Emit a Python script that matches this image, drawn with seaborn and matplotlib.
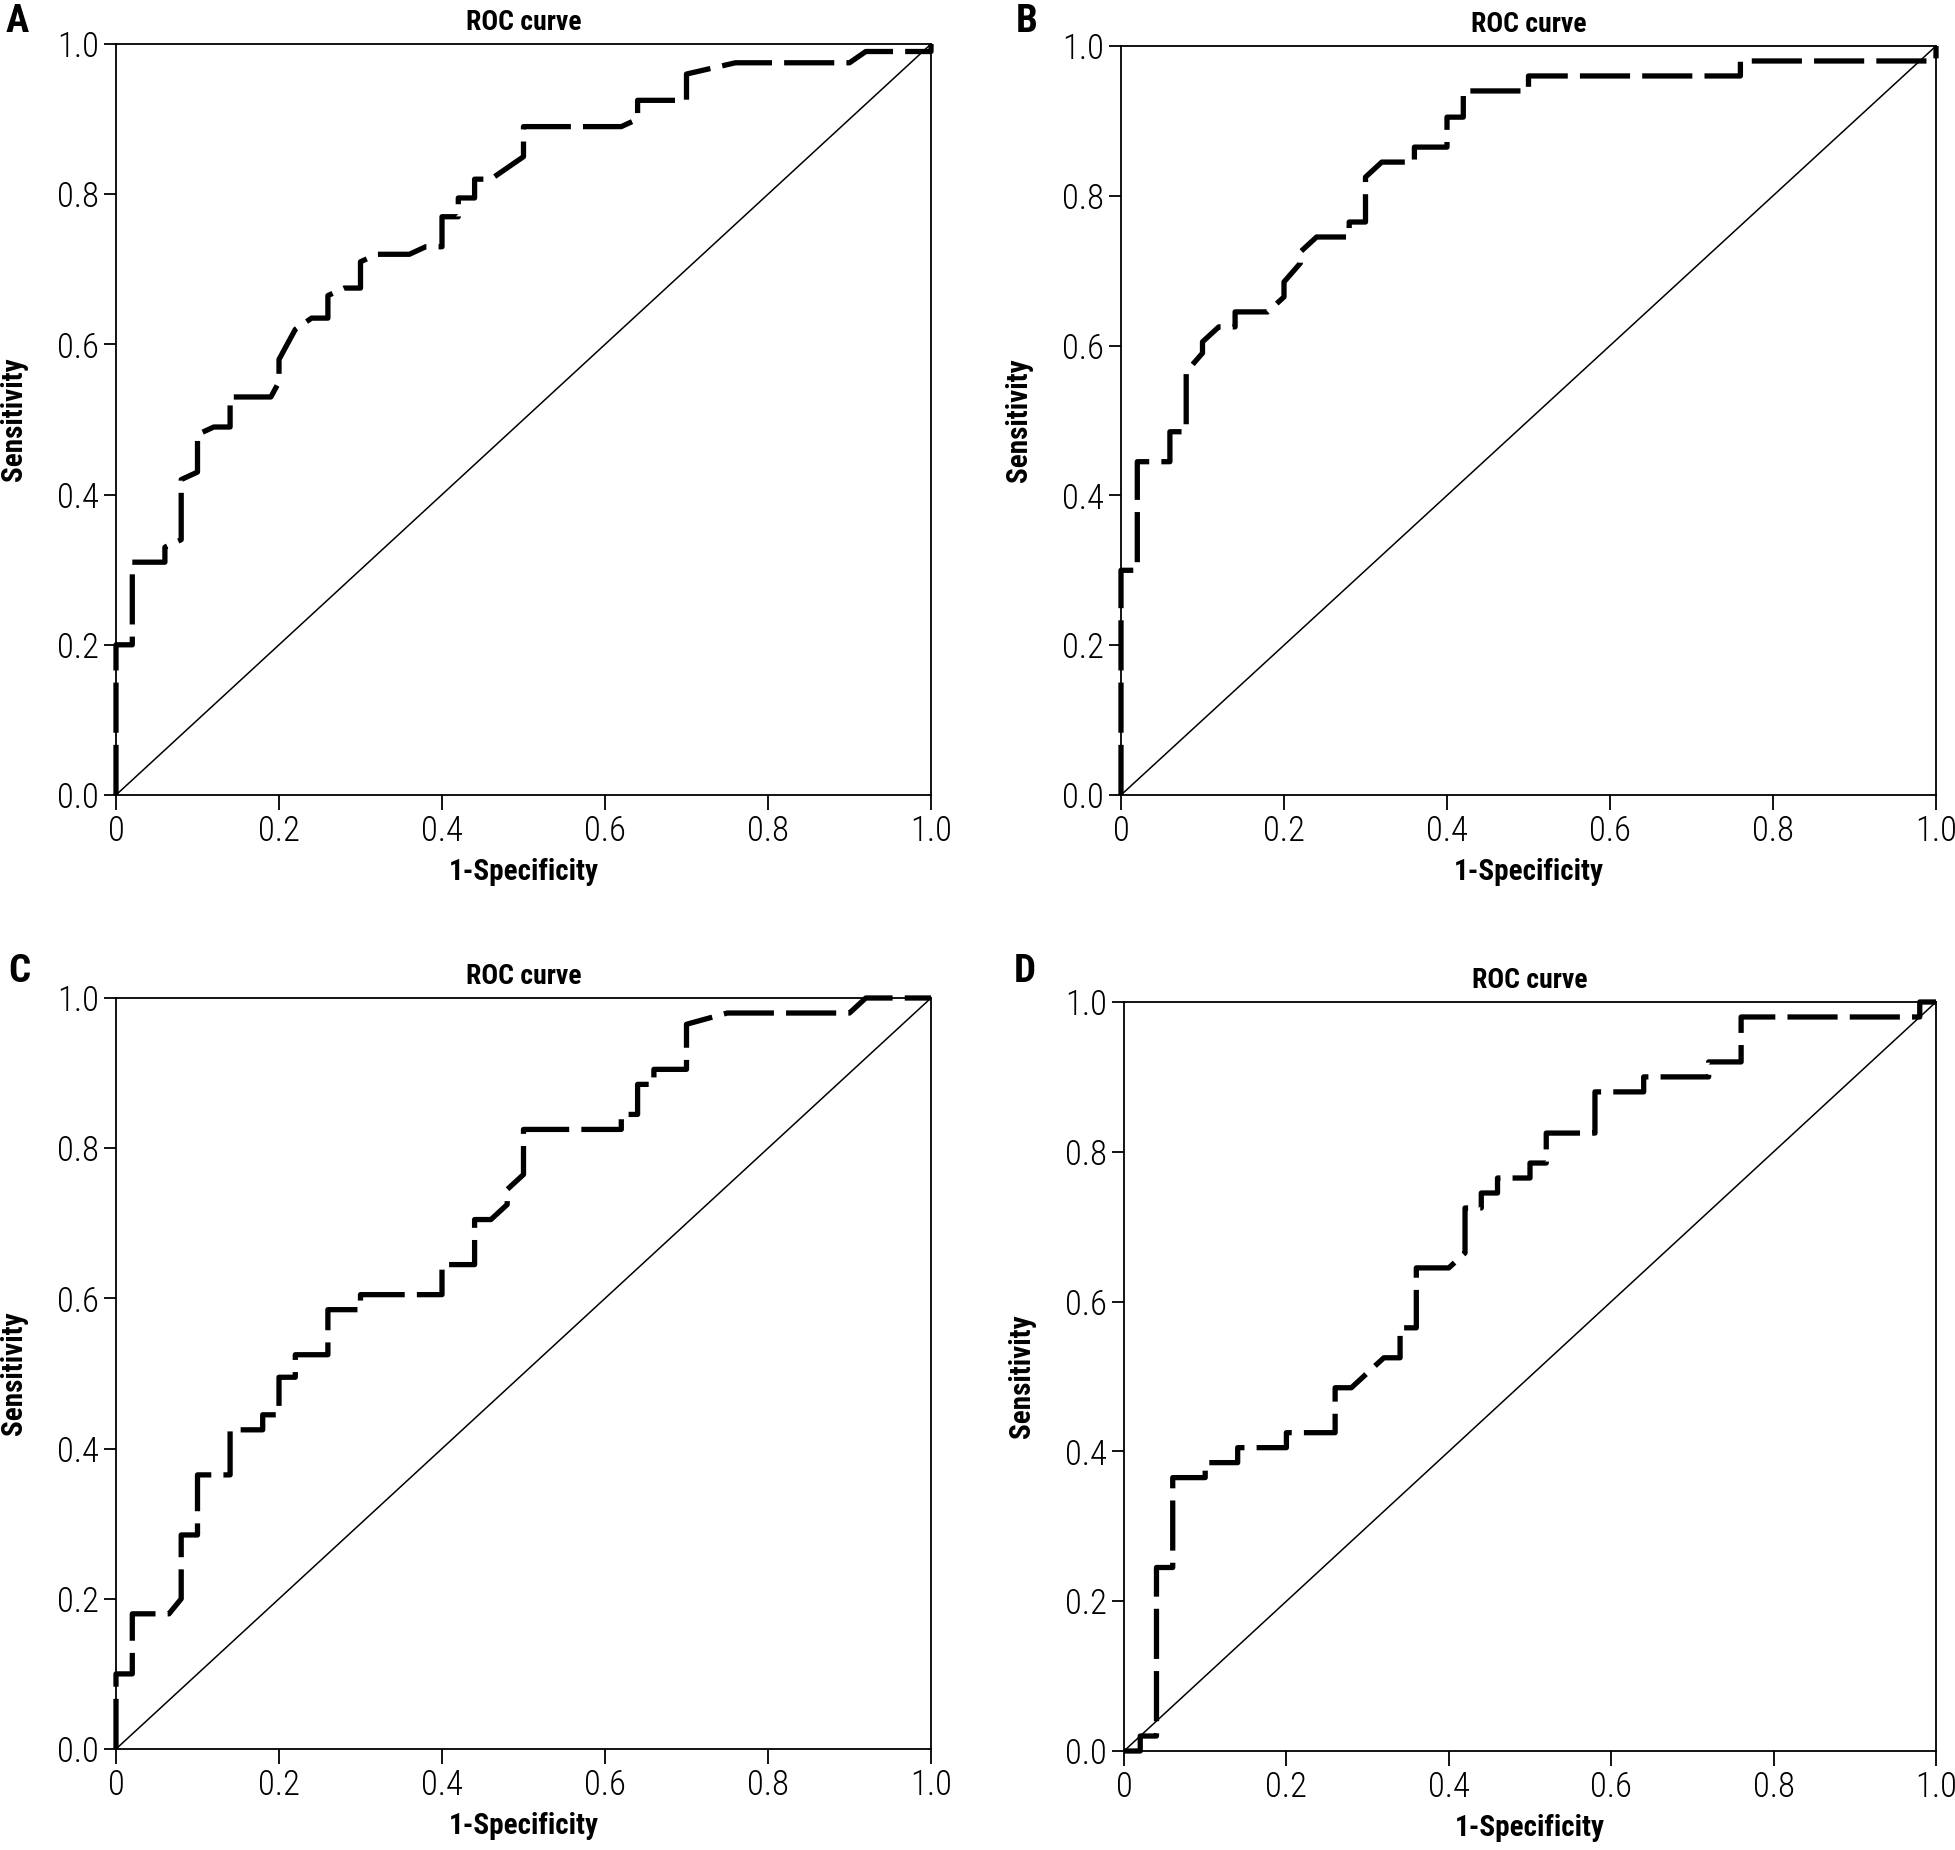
import matplotlib
matplotlib.use("Agg")
import matplotlib.pyplot as plt
from matplotlib import font_manager
import seaborn as sns
import pandas as pd

# ---- data ----
panel_letters = ["A", "B", "C", "D"]
title_text = "ROC curve"
x_label = "1-Specificity"
y_label = "Sensitivity"
tick_values = [0.0, 0.2, 0.4, 0.6, 0.8, 1.0]
x_tick_labels = ["0", "0.2", "0.4", "0.6", "0.8", "1.0"]
y_tick_labels = ["0.0", "0.2", "0.4", "0.6", "0.8", "1.0"]

fpr_A = [0, 0, 0.02, 0.02, 0.06, 0.06, 0.08, 0.08, 0.10, 0.10, 0.12, 0.14, 0.14, 0.19, 0.20, 0.20,
         0.22, 0.24, 0.26, 0.26, 0.28, 0.30, 0.30, 0.32, 0.36, 0.38, 0.40, 0.40, 0.42, 0.42, 0.44,
         0.44, 0.46, 0.50, 0.50, 0.62, 0.64, 0.64, 0.70, 0.70, 0.76, 0.90, 0.92, 1.0, 1.0]
tpr_A = [0, 0.20, 0.20, 0.31, 0.31, 0.33, 0.34, 0.42, 0.43, 0.48, 0.49, 0.49, 0.53, 0.53, 0.55, 0.58,
         0.62, 0.635, 0.635, 0.665, 0.675, 0.675, 0.71, 0.72, 0.72, 0.73, 0.73, 0.77, 0.77, 0.795, 0.795,
         0.82, 0.82, 0.85, 0.89, 0.89, 0.90, 0.925, 0.925, 0.96, 0.975, 0.975, 0.99, 0.99, 1.0]

fpr_B = [0, 0, 0.02, 0.02, 0.06, 0.06, 0.08, 0.08, 0.10, 0.10, 0.12, 0.14, 0.14, 0.18, 0.20, 0.20,
         0.22, 0.22, 0.24, 0.28, 0.28, 0.30, 0.30, 0.32, 0.36, 0.36, 0.40, 0.40, 0.42, 0.42, 0.50,
         0.50, 0.76, 0.76, 1.0, 1.0]
tpr_B = [0, 0.30, 0.30, 0.445, 0.445, 0.485, 0.485, 0.565, 0.59, 0.605, 0.625, 0.625, 0.645, 0.645,
         0.665, 0.685, 0.71, 0.725, 0.745, 0.745, 0.765, 0.765, 0.825, 0.845, 0.845, 0.865, 0.865,
         0.905, 0.905, 0.94, 0.94, 0.96, 0.96, 0.98, 0.98, 1.0]

fpr_C = [0, 0, 0.02, 0.02, 0.065, 0.08, 0.08, 0.10, 0.10, 0.14, 0.14, 0.18, 0.18, 0.20, 0.20, 0.22,
         0.22, 0.26, 0.26, 0.30, 0.30, 0.40, 0.40, 0.44, 0.44, 0.46, 0.48, 0.48, 0.50, 0.50, 0.62,
         0.62, 0.64, 0.64, 0.66, 0.66, 0.70, 0.70, 0.75, 0.90, 0.92, 1.0]
tpr_C = [0, 0.10, 0.10, 0.18, 0.18, 0.20, 0.285, 0.285, 0.365, 0.365, 0.425, 0.425, 0.445, 0.445,
         0.495, 0.495, 0.525, 0.525, 0.585, 0.585, 0.605, 0.605, 0.645, 0.645, 0.705, 0.705, 0.725,
         0.745, 0.765, 0.825, 0.825, 0.845, 0.845, 0.885, 0.885, 0.905, 0.905, 0.965, 0.98, 0.98,
         1.0, 1.0]

fpr_D = [0, 0.02, 0.02, 0.04, 0.04, 0.06, 0.06, 0.10, 0.10, 0.14, 0.14, 0.20, 0.20, 0.26, 0.26,
         0.28, 0.30, 0.32, 0.34, 0.34, 0.36, 0.36, 0.40, 0.42, 0.42, 0.44, 0.44, 0.46, 0.46, 0.50,
         0.50, 0.52, 0.52, 0.58, 0.58, 0.64, 0.64, 0.72, 0.72, 0.76, 0.76, 0.98, 0.98, 1.0]
tpr_D = [0, 0, 0.02, 0.02, 0.245, 0.245, 0.365, 0.365, 0.385, 0.385, 0.405, 0.405, 0.425, 0.425,
         0.485, 0.485, 0.505, 0.525, 0.525, 0.565, 0.565, 0.645, 0.645, 0.665, 0.725, 0.725, 0.745,
         0.745, 0.765, 0.765, 0.785, 0.785, 0.825, 0.825, 0.88, 0.88, 0.90, 0.90, 0.92, 0.92, 0.98,
         0.98, 1.0, 1.0]

ref_line = [0.0, 1.0]

curves = [(fpr_A, tpr_A), (fpr_B, tpr_B), (fpr_C, tpr_C), (fpr_D, tpr_D)]

# ---- style ----
sns.set_style("ticks")
installed = {f.name for f in font_manager.fontManager.ttflist}
narrow = [n for n in ["Liberation Sans Narrow", "DejaVu Sans Condensed", "Roboto Condensed",
                      "Open Sans Condensed"] if n in installed]
plt.rcParams["font.family"] = narrow + ["DejaVu Sans"]
plt.rcParams["font.stretch"] = "condensed"
plt.rcParams["text.color"] = "black"
plt.rcParams["axes.labelcolor"] = "black"
plt.rcParams["xtick.color"] = "black"
plt.rcParams["ytick.color"] = "black"

W, H = 1956, 1850
fig = plt.figure(figsize=(W / 100, H / 100), dpi=100)

# axes boxes in pixels: left, top, right, bottom
boxes = [(116, 44, 931, 795), (1121, 46, 1936, 795),
         (116, 998, 931, 1749), (1124, 1002, 1936, 1751)]
letter_pos = [(6, 22), (1016, 22), (8, 972), (1014, 972)]

for i, ((l, t, r, b), (fx, ty)) in enumerate(zip(boxes, curves)):
    ax = fig.add_axes([l / W, 1 - b / H, (r - l) / W, (b - t) / H])
    df = pd.DataFrame({"fpr": fx, "tpr": ty})
    sns.lineplot(data=df, x="fpr", y="tpr", ax=ax, sort=False, estimator=None,
                 color="black", linewidth=3.8, clip_on=False, zorder=3)
    ax.lines[-1].set_dashes((9.5, 2.3))
    ax.lines[-1].set_dash_capstyle("butt")
    sns.lineplot(x=ref_line, y=ref_line, ax=ax, color="black", linewidth=1.1,
                 estimator=None, sort=False)
    ax.set_xlim(0, 1)
    ax.set_ylim(0, 1)
    ax.set_xticks(tick_values)
    ax.set_xticklabels(x_tick_labels)
    ax.set_yticks(tick_values)
    ax.set_yticklabels(y_tick_labels)
    ax.tick_params(axis="both", direction="out", width=1.3, labelsize=25, color="black",
                   labelcolor="black")
    ax.tick_params(axis="x", length=11, pad=3)
    ax.tick_params(axis="y", length=8.5, pad=4)
    for lab in ax.get_xticklabels() + ax.get_yticklabels():
        lab.set_fontweight("light")
    for s in ax.spines.values():
        s.set_visible(True)
        s.set_linewidth(1.3)
        s.set_color("black")
    ax.set_xlabel(x_label, fontsize=21, fontweight="bold")
    ax.set_ylabel(y_label, fontsize=21, fontweight="bold")
    ax.xaxis.set_label_coords(0.5, -0.084)
    ax.yaxis.set_label_coords(-0.108, 0.5)
    ax.set_title(title_text, fontsize=20, fontweight="bold", pad=10)
    fig.text(letter_pos[i][0] / W, 1 - letter_pos[i][1] / H,
             panel_letters[i], fontsize=28, fontweight="bold", ha="left", va="center")

fig.savefig("out.png", dpi=100)
